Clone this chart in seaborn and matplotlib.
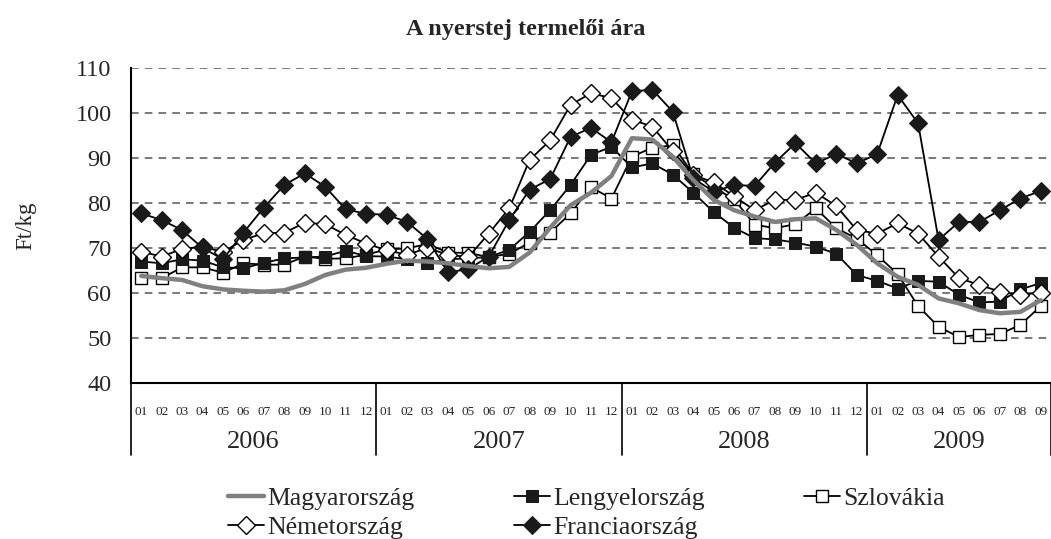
import numpy as np
import pandas as pd
import matplotlib
matplotlib.use("Agg")
import matplotlib.pyplot as plt
import seaborn as sns

# data (Ft/kg), 2006-01 .. 2009-09
years = ["2006", "2007", "2008", "2009"]
months_per_year = [12, 12, 12, 9]
magyar = [63.8, 63.3, 62.9, 61.5, 60.8, 60.5, 60.3, 60.6, 62.0, 64.0, 65.2, 65.6,
          66.5, 67.2, 67.0, 66.6, 66.0, 65.5, 65.8, 69.0, 74.5, 79.5, 82.3, 86.0,
          94.4, 94.1, 90.3, 85.1, 80.7, 78.4, 77.0, 75.8, 76.4, 76.6, 74.0, 70.7,
          66.6, 63.6, 61.8, 58.8, 57.7, 56.2, 55.5, 55.8, 58.4]
lengyel = [67.0, 66.6, 67.5, 67.2, 65.7, 65.5, 66.7, 67.7, 67.9, 68.1, 69.4, 68.2,
           68.1, 67.5, 66.6, 67.5, 67.7, 68.0, 69.6, 73.6, 78.4, 84.0, 90.7, 92.5,
           87.9, 88.8, 86.3, 82.3, 78.0, 74.5, 72.2, 71.9, 71.2, 70.3, 68.7, 64.0,
           62.7, 61.0, 62.7, 62.5, 59.6, 57.9, 58.1, 60.8, 62.2]
szlovakia = [63.3, 63.3, 65.7, 65.7, 64.5, 66.6, 66.3, 66.3, 68.1, 67.6, 67.7, 68.5,
             69.7, 69.9, 70.9, 69.0, 68.9, 68.0, 68.7, 71.2, 73.4, 77.7, 83.5, 81.0,
             90.3, 92.3, 92.8, 86.4, 83.5, 80.8, 75.2, 74.4, 75.3, 78.8, 74.4, 72.1,
             68.4, 64.2, 57.1, 52.5, 50.2, 50.7, 50.9, 52.9, 57.1]
nemet = [69.2, 68.1, 69.8, 70.3, 69.1, 71.8, 73.3, 73.4, 75.6, 75.3, 72.9, 71.0,
         69.5, 68.5, 70.0, 68.5, 68.0, 73.2, 78.8, 89.6, 93.9, 101.8, 104.4, 103.3,
         98.5, 97.0, 91.5, 86.2, 84.6, 81.5, 78.4, 80.7, 80.7, 82.3, 79.3, 74.0,
         73.2, 75.5, 73.2, 68.1, 63.3, 61.8, 60.3, 59.6, 60.1]
francia = [77.7, 76.2, 74.0, 70.0, 67.5, 73.4, 79.0, 84.0, 86.6, 83.6, 78.6, 77.6,
           77.4, 75.8, 72.0, 64.6, 65.3, 68.1, 76.2, 83.0, 85.3, 94.7, 96.7, 93.5,
           104.8, 105.2, 100.3, 85.5, 82.5, 84.0, 83.8, 89.0, 93.3, 88.8, 90.9, 88.8,
           90.9, 104.0, 97.7, 71.8, 75.8, 75.8, 78.4, 81.0, 82.7]

month_labels = [f"{m:02d}" for n in months_per_year for m in range(1, n + 1)]
x = np.arange(len(month_labels))

sns.set_style("white")
plt.rcParams["font.family"] = ["Liberation Serif", "DejaVu Serif"]

fig = plt.figure(figsize=(10.51, 5.39), dpi=100)
ax = fig.add_axes([131 / 1051, 1 - 383 / 539, 1 - 131 / 1051, (383 - 68) / 539])

series = [
    ("Szlovákia", szlovakia, dict(color="black", marker="s", ms=8.5, mfc="white", mec="black", mew=1.0, lw=1.3, zorder=3)),
    ("Lengyelország", lengyel, dict(color="black", marker="s", ms=8.5, mfc="#1a1a1a", mec="#1a1a1a", lw=1.3, zorder=4)),
    ("Németország", nemet, dict(color="black", marker="D", ms=9, mfc="white", mec="black", mew=1.0, lw=1.3, zorder=5)),
    ("Franciaország", francia, dict(color="black", marker="D", ms=9, mfc="#1a1a1a", mec="#1a1a1a", lw=1.3, zorder=6)),
    ("Magyarország", magyar, dict(color="#808080", lw=3.2, zorder=7)),
]
handles = {}
for name, vals, kw in series:
    sns.lineplot(x=x, y=vals, ax=ax, label=name, **kw)
for line in ax.get_lines():
    handles[line.get_label()] = line
ax.get_legend().remove()

ax.set_xlim(-0.5, len(x) - 0.5)
ax.set_ylim(40, 110)
ax.set_yticks(range(40, 111, 10))
ax.tick_params(axis="y", labelsize=17.5, direction="out", length=9, width=1.2, color="black", pad=5)
ax.yaxis.grid(True, linestyle=(0, (5, 4)), color="#555555", lw=1.1)
ax.xaxis.grid(False)
for s in ["top", "right"]:
    ax.spines[s].set_visible(False)
ax.spines["left"].set_color("black")
ax.spines["left"].set_linewidth(1.5)
ax.spines["bottom"].set_color("black")
ax.spines["bottom"].set_linewidth(1.5)
ax.set_ylabel("Ft/kg", fontsize=16.5, labelpad=28)
ax.set_xlabel("")

# month labels and short separators
ax.set_xticks(x)
ax.set_xticklabels(month_labels, fontsize=9.5)
ax.tick_params(axis="x", length=0, pad=16.5)
ax.set_xticks(np.arange(-0.5, len(x), 1), minor=True)
ax.tick_params(axis="x", which="minor", direction="out", length=11, width=1.0, color="black")

# year separators and labels
trans = ax.get_xaxis_transform()
start = 0
for yr, n in zip(years, months_per_year):
    ax.plot([start - 0.5, start - 0.5], [0, -72 / 315], transform=trans, color="black", lw=1.2, clip_on=False)
    ax.text(start + n / 2 - 0.5, -59 / 315, yr, transform=trans, ha="center", va="center", fontsize=19)
    start += n
ax.plot([start - 0.5, start - 0.5], [0, -72 / 315], transform=trans, color="black", lw=1.2, clip_on=False)

fig.suptitle("A nyerstej termelői ára", y=1 - 29 / 539, va="center", fontsize=17.5, fontweight="bold")

order = ["Magyarország", "Németország", "Lengyelország", "Franciaország", "Szlovákia"]
fig.legend([handles[k] for k in order], order, loc="center", bbox_to_anchor=(0.558, 1 - 513 / 539),
           ncol=3, frameon=False, fontsize=18.5, handlelength=1.4, handletextpad=0.15,
           columnspacing=3.85, labelspacing=0.2, borderpad=0)

fig.savefig("out.png", dpi=100)
